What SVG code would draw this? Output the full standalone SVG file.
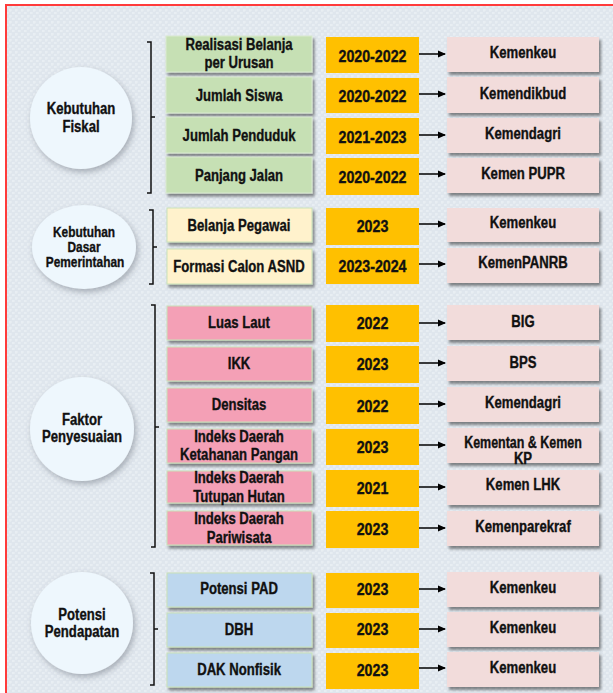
<svg xmlns="http://www.w3.org/2000/svg" width="613" height="693" viewBox="0 0 613 693">
<defs>
<filter id="sh" x="-10%" y="-20%" width="130%" height="160%"><feDropShadow dx="2" dy="3" stdDeviation="1.5" flood-color="#000" flood-opacity="0.45"/></filter>
<filter id="csh" x="-20%" y="-20%" width="150%" height="150%"><feDropShadow dx="2" dy="3" stdDeviation="3" flood-color="#5a6470" flood-opacity="0.45"/></filter>
<marker id="ah" markerWidth="8" markerHeight="8" refX="7" refY="4" orient="auto" markerUnits="userSpaceOnUse"><path d="M0,0.5 L8,4 L0,7.5 Z" fill="#000"/></marker>
<pattern id="tex" width="6" height="6" patternUnits="userSpaceOnUse"><rect width="6" height="6" fill="#dfe6ed"/><path d="M0,1 H3 M3,4 H6 M1,0 V2 M4,3 V6" stroke="#eef2f6" stroke-width="0.8"/></pattern>
</defs>
<style>
text{font-family:"Liberation Sans",Arial,sans-serif;font-weight:bold;fill:#111;stroke:#111;stroke-width:0.35;text-anchor:middle;font-size:16px;transform-box:fill-box;transform-origin:center;transform:scaleX(0.82)}
text.n{transform:scaleX(0.89)}
text.s14{font-size:14.5px}
text.k{transform:scaleX(0.78)}
.c{fill:#eef7fd;filter:url(#csh)}
.g{fill:#c6e0b4;stroke:#d9ead0;stroke-width:1;filter:url(#sh)}
.b{fill:#fff2cc;stroke:#c9e2b8;stroke-width:1;filter:url(#sh)}
.p{fill:#f4a0b6;stroke:#c9e2b8;stroke-width:1;filter:url(#sh)}
.u{fill:#bdd7ee;stroke:#c9e2b8;stroke-width:1;filter:url(#sh)}
.y{fill:#ffc000}
.r{fill:#f2dcdb;filter:url(#sh)}
.br{fill:none;stroke:#111;stroke-width:1.5}
.ar{stroke:#000;stroke-width:1.5;marker-end:url(#ah)}
</style>
<rect x="0" y="0" width="613" height="693" fill="#fff"/>
<rect x="6" y="5" width="640" height="720" fill="url(#tex)" stroke="#ff3b3b" stroke-width="2"/>

<g id="circles">
<g id="c1"><circle class="c" cx="81" cy="118" r="51"/><text x="81" y="114">Kebutuhan</text><text x="81" y="132">Fiskal</text></g>
<g id="c2"><ellipse class="c" cx="84" cy="247" rx="52" ry="42"/><text class="s14" x="84" y="237">Kebutuhan</text><text class="s14" x="84" y="252">Dasar</text><text class="s14" x="85" y="267">Pemerintahan</text></g>
<g id="c3"><circle class="c" cx="82" cy="429" r="52"/><text x="82" y="425">Faktor</text><text x="82" y="442">Penyesuaian</text></g>
<g id="c4"><circle class="c" cx="82" cy="623" r="51"/><text x="82" y="620">Potensi</text><text x="82" y="637">Pendapatan</text></g>
</g>

<g id="brackets">
<path class="br" d="M147,42 H151 V193 H147 M151,117 H155"/>
<path class="br" d="M149,210 H153 V284 H149 M153,247 H157"/>
<path class="br" d="M151,305 H155 V547 H151 M155,427 H159"/>
<path class="br" d="M150,573 H154 V685 H150 M154,629 H158"/>
</g>

<g id="s1">
<g id="l1"><rect class="g" x="166" y="36" width="146" height="36"/><text x="239" y="50">Realisasi Belanja</text><text x="239" y="68">per Urusan</text></g>
<g id="l2"><rect class="g" x="166" y="77" width="146" height="36"/><text x="239" y="101">Jumlah Siswa</text></g>
<g id="l3"><rect class="g" x="166" y="117" width="146" height="36"/><text x="239" y="141">Jumlah Penduduk</text></g>
<g id="l4"><rect class="g" x="166" y="157" width="146" height="36"/><text x="239" y="181">Panjang Jalan</text></g>
<g id="y1"><rect class="y" x="326" y="37" width="93" height="36"/><text class="n" x="372.5" y="62">2020-2022</text></g>
<g id="y2"><rect class="y" x="326" y="78" width="93" height="35"/><text class="n" x="372.5" y="102">2020-2022</text></g>
<g id="y3"><rect class="y" x="326" y="118" width="93" height="36"/><text class="n" x="372.5" y="143">2021-2023</text></g>
<g id="y4"><rect class="y" x="326" y="158" width="93" height="37"/><text class="n" x="372.5" y="183">2020-2022</text></g>
<g id="r1"><rect class="r" x="447" y="37" width="152" height="35"/><text x="523" y="58">Kemenkeu</text></g>
<g id="r2"><rect class="r" x="447" y="77" width="152" height="36"/><text x="523" y="99">Kemendikbud</text></g>
<g id="r3"><rect class="r" x="447" y="118" width="152" height="35"/><text x="523" y="139">Kemendagri</text></g>
<g id="r4"><rect class="r" x="447" y="158" width="152" height="35"/><text x="523" y="179">Kemen PUPR</text></g>
</g>

<g id="s2">
<g id="l5"><rect class="b" x="167" y="208" width="145" height="34"/><text x="239" y="231">Belanja Pegawai</text></g>
<g id="l6"><rect class="b" x="167" y="249" width="145" height="35"/><text x="239" y="272">Formasi Calon ASND</text></g>
<g id="y5"><rect class="y" x="326" y="208" width="93" height="37"/><text class="n" x="372.5" y="232">2023</text></g>
<g id="y6"><rect class="y" x="326" y="248" width="93" height="36"/><text class="n" x="372.5" y="272">2023-2024</text></g>
<g id="r5"><rect class="r" x="447" y="208" width="152" height="34"/><text x="523" y="228">Kemenkeu</text></g>
<g id="r6"><rect class="r" x="447" y="248" width="152" height="35"/><text x="523" y="268">KemenPANRB</text></g>
</g>

<g id="s3">
<g id="l7"><rect class="p" x="167" y="306" width="145" height="34"/><text x="239" y="328">Luas Laut</text></g>
<g id="l8"><rect class="p" x="167" y="347" width="145" height="34"/><text x="239" y="369">IKK</text></g>
<g id="l9"><rect class="p" x="167" y="388" width="145" height="34"/><text x="239" y="410">Densitas</text></g>
<g id="l10"><rect class="p" x="167" y="429" width="145" height="34"/><text x="239" y="442">Indeks Daerah</text><text x="239" y="460">Ketahanan Pangan</text></g>
<g id="l11"><rect class="p" x="167" y="471" width="145" height="32"/><text x="239" y="483">Indeks Daerah</text><text x="239" y="502">Tutupan Hutan</text></g>
<g id="l12"><rect class="p" x="167" y="511" width="145" height="34"/><text x="239" y="524">Indeks Daerah</text><text x="239" y="543">Pariwisata</text></g>
<g id="y7"><rect class="y" x="326" y="305" width="93" height="37"/><text class="n" x="372.5" y="329">2022</text></g>
<g id="y8"><rect class="y" x="326" y="346" width="93" height="37"/><text class="n" x="372.5" y="370">2023</text></g>
<g id="y9"><rect class="y" x="326" y="387" width="93" height="37"/><text class="n" x="372.5" y="412">2022</text></g>
<g id="y10"><rect class="y" x="326" y="429" width="93" height="36"/><text class="n" x="372.5" y="453">2023</text></g>
<g id="y11"><rect class="y" x="326" y="470" width="93" height="37"/><text class="n" x="372.5" y="494">2021</text></g>
<g id="y12"><rect class="y" x="326" y="511" width="93" height="37"/><text class="n" x="372.5" y="535">2023</text></g>
<g id="r7"><rect class="r" x="447" y="305" width="152" height="35"/><text x="523" y="327">BIG</text></g>
<g id="r8"><rect class="r" x="447" y="346" width="152" height="35"/><text x="523" y="368">BPS</text></g>
<g id="r9"><rect class="r" x="447" y="387" width="152" height="35"/><text x="523" y="408">Kemendagri</text></g>
<g id="r10"><rect class="r" x="447" y="428" width="152" height="35"/><text class="k" x="523" y="448">Kementan &amp; Kemen</text><text x="523" y="464">KP</text></g>
<g id="r11"><rect class="r" x="447" y="470" width="152" height="35"/><text x="523" y="490">Kemen LHK</text></g>
<g id="r12"><rect class="r" x="447" y="511" width="152" height="35"/><text x="523" y="532">Kemenparekraf</text></g>
</g>

<g id="s4">
<g id="l13"><rect class="u" x="167" y="573" width="145" height="34"/><text x="239" y="594">Potensi PAD</text></g>
<g id="l14"><rect class="u" x="167" y="613" width="145" height="34"/><text x="239" y="635">DBH</text></g>
<g id="l15"><rect class="u" x="167" y="653" width="145" height="34"/><text x="239" y="675">DAK Nonfisik</text></g>
<g id="y13"><rect class="y" x="326" y="573" width="93" height="35"/><text class="n" x="372.5" y="595">2023</text></g>
<g id="y14"><rect class="y" x="326" y="613" width="93" height="35"/><text class="n" x="372.5" y="635">2023</text></g>
<g id="y15"><rect class="y" x="326" y="653" width="93" height="36"/><text class="n" x="372.5" y="676">2023</text></g>
<g id="r13"><rect class="r" x="447" y="572" width="152" height="35"/><text x="523" y="593">Kemenkeu</text></g>
<g id="r14"><rect class="r" x="447" y="612" width="152" height="35"/><text x="523" y="633">Kemenkeu</text></g>
<g id="r15"><rect class="r" x="447" y="652" width="152" height="35"/><text x="523" y="673">Kemenkeu</text></g>
</g>

<g id="connectors">
<line class="ar" x1="419" y1="54" x2="445" y2="54"/>
<line class="ar" x1="419" y1="94" x2="445" y2="94"/>
<line class="ar" x1="419" y1="135" x2="445" y2="135"/>
<line class="ar" x1="419" y1="174" x2="445" y2="174"/>
<line class="ar" x1="419" y1="224" x2="445" y2="224"/>
<line class="ar" x1="419" y1="264" x2="445" y2="264"/>
<line class="ar" x1="419" y1="323" x2="445" y2="323"/>
<line class="ar" x1="419" y1="363" x2="445" y2="363"/>
<line class="ar" x1="419" y1="404" x2="445" y2="404"/>
<line class="ar" x1="419" y1="445" x2="445" y2="445"/>
<line class="ar" x1="419" y1="487" x2="445" y2="487"/>
<line class="ar" x1="419" y1="528" x2="445" y2="528"/>
<line class="ar" x1="419" y1="589" x2="445" y2="589"/>
<line class="ar" x1="419" y1="629" x2="445" y2="629"/>
<line class="ar" x1="419" y1="668" x2="445" y2="668"/>
</g>
</svg>
